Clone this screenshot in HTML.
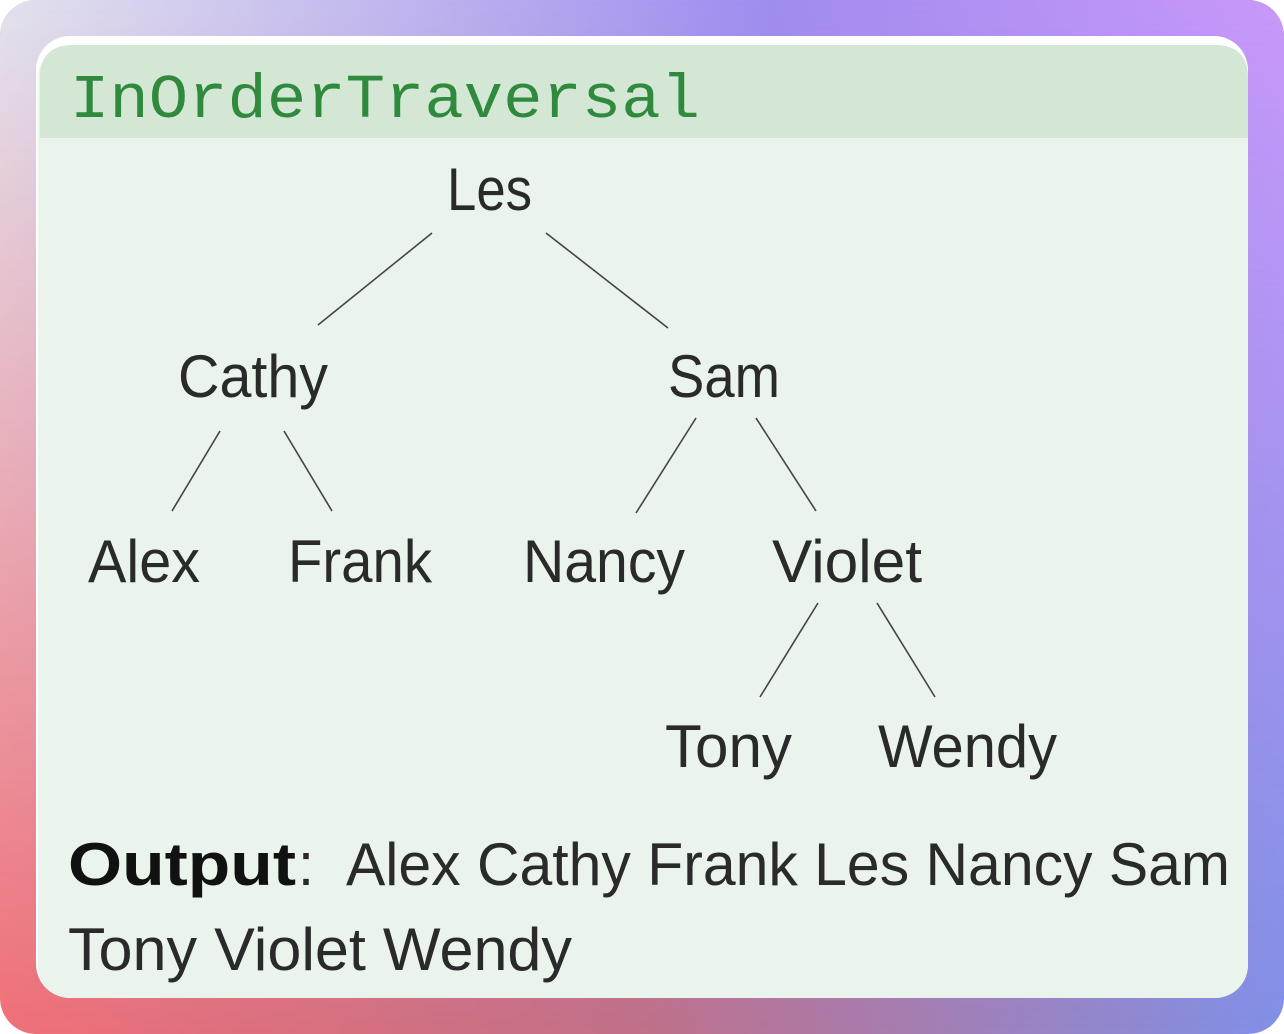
<!DOCTYPE html>
<html><head><meta charset="utf-8"><style>
html,body{margin:0;padding:0;width:1284px;height:1034px;overflow:hidden;background:transparent}
</style></head><body>
<svg width="1284" height="1034" viewBox="0 0 1284 1034" xmlns="http://www.w3.org/2000/svg">
<defs>
<linearGradient id="g1" x1="0" y1="0" x2="1" y2="0">
<stop offset="0" stop-color="#e2e2ee"/><stop offset="0.6" stop-color="#a08cf0"/><stop offset="1" stop-color="#c898f8"/>
</linearGradient>
<linearGradient id="g2" x1="0" y1="0" x2="1" y2="0">
<stop offset="0" stop-color="#f07078"/><stop offset="0.5" stop-color="#c07088"/><stop offset="1" stop-color="#8090e8"/>
</linearGradient>
<linearGradient id="gv" x1="0" y1="0" x2="0" y2="1">
<stop offset="0" stop-color="#fff" stop-opacity="1"/><stop offset="1" stop-color="#fff" stop-opacity="0"/>
</linearGradient>
<mask id="m"><rect width="1284" height="1034" fill="url(#gv)"/></mask>
<clipPath id="c"><rect x="0" y="0" width="1284" height="1034" rx="36"/></clipPath>
</defs>
<g clip-path="url(#c)">
<rect width="1284" height="1034" fill="url(#g2)"/>
<rect width="1284" height="1034" fill="url(#g1)" mask="url(#m)"/>
</g>
<rect x="36" y="36" width="1212" height="962" rx="34" fill="#ffffff"/>
<rect x="38" y="45" width="1210" height="953" rx="33" fill="#eaf3ec"/>
<path d="M40 138 V78 Q40 45 73 45 H1215 Q1248 45 1248 78 V138 Z" fill="#d4e7d5"/>
<text x="70" y="117" font-family="Liberation Mono, monospace" font-size="62" fill="#2f8a3e" textLength="630" lengthAdjust="spacingAndGlyphs">InOrderTraversal</text>
<g stroke="#444" stroke-width="1.6" fill="none">
<line x1="432" y1="233" x2="318" y2="325"/>
<line x1="546" y1="233" x2="668" y2="328"/>
<line x1="220" y1="431" x2="172" y2="511"/>
<line x1="284" y1="431" x2="332" y2="511"/>
<line x1="696" y1="418" x2="636" y2="513"/>
<line x1="756" y1="418" x2="816" y2="511"/>
<line x1="818" y1="603" x2="760" y2="697"/>
<line x1="877" y1="603" x2="935" y2="697"/>
</g>
<g font-family="Liberation Sans, sans-serif" font-size="60" fill="#2a2a2a">
<text x="447" y="210" textLength="85" lengthAdjust="spacingAndGlyphs">Les</text>
<text x="178" y="397" textLength="150" lengthAdjust="spacingAndGlyphs">Cathy</text>
<text x="668" y="397" textLength="112" lengthAdjust="spacingAndGlyphs">Sam</text>
<text x="88" y="582" textLength="112" lengthAdjust="spacingAndGlyphs">Alex</text>
<text x="288" y="582" textLength="144" lengthAdjust="spacingAndGlyphs">Frank</text>
<text x="523" y="582" textLength="162" lengthAdjust="spacingAndGlyphs">Nancy</text>
<text x="772" y="582" textLength="150" lengthAdjust="spacingAndGlyphs">Violet</text>
<text x="665" y="767" textLength="127" lengthAdjust="spacingAndGlyphs">Tony</text>
<text x="878" y="767" textLength="179" lengthAdjust="spacingAndGlyphs">Wendy</text>
<text x="68" y="885" font-weight="bold" fill="#111" textLength="228" lengthAdjust="spacingAndGlyphs">Output</text>
<text x="298" y="885" textLength="16" lengthAdjust="spacingAndGlyphs">:</text>
<text x="346" y="885" textLength="884" lengthAdjust="spacingAndGlyphs">Alex Cathy Frank Les Nancy Sam</text>
<text x="68" y="970" textLength="504" lengthAdjust="spacingAndGlyphs">Tony Violet Wendy</text>
</g>
</svg>
</body></html>
